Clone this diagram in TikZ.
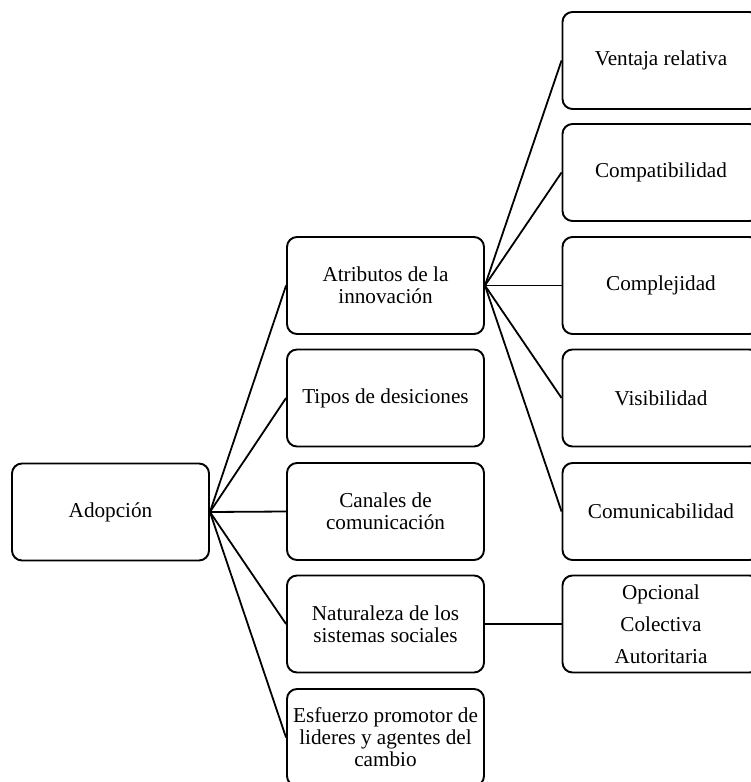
\documentclass[tikz,border=0pt]{standalone}
\usepackage{fontspec}
\setmainfont{Liberation Serif}
\usepackage{xcolor}

\tikzset{
  caja/.style={draw=black, line width=1.9pt, rounded corners=10pt,
    minimum width=197pt, minimum height=97pt, align=center,
    inner sep=2pt, font=\fontsize{21.2}{22}\selectfont},
  rama/.style={draw=black, line width=1.8pt}
}

\begin{document}
\begin{tikzpicture}[x=1pt,y=-1pt]
  \useasboundingbox (0,0) rectangle (751,782);
  \clip (0,0) rectangle (751,782);
  % raiz
  \node[caja] (adop) at (110.5,512) {Adopción};
  % columna media
  \node[caja] (attr) at (385.5,285.5) {Atributos de la\\innovación};
  \node[caja] (tipo) at (385.5,398) {Tipos de desiciones};
  \node[caja] (canal) at (385.5,511.5) {Canales de\\comunicación};
  \node[caja] (natur) at (385.5,624) {Naturaleza de los\\sistemas sociales};
  \node[caja] (esfu) at (385.5,737.5) {Esfuerzo promotor de\\lideres y agentes del\\cambio};
  % columna derecha
  \node[caja] (vent) at (661,60.5) {Ventaja relativa};
  \node[caja] (compa) at (661,172.5) {Compatibilidad};
  \node[caja] (compl) at (661,285.5) {Complejidad};
  \node[caja] (visi) at (661,398) {Visibilidad};
  \node[caja] (comu) at (661,511.5) {Comunicabilidad};
  \node[caja, font=\fontsize{21.2}{32}\selectfont] (tipos) at (661,624) {Opcional\\Colectiva\\Autoritaria};
  % conectores
  \foreach \m in {attr,tipo,canal,natur,esfu}
    \draw[rama] (adop.east) -- (\m.west);
  \foreach \r in {vent,compa,compl,visi,comu}
    \draw[rama] (attr.east) -- (\r.west);
  \draw[rama] (natur.east) -- (tipos.west);
\end{tikzpicture}
\end{document}
